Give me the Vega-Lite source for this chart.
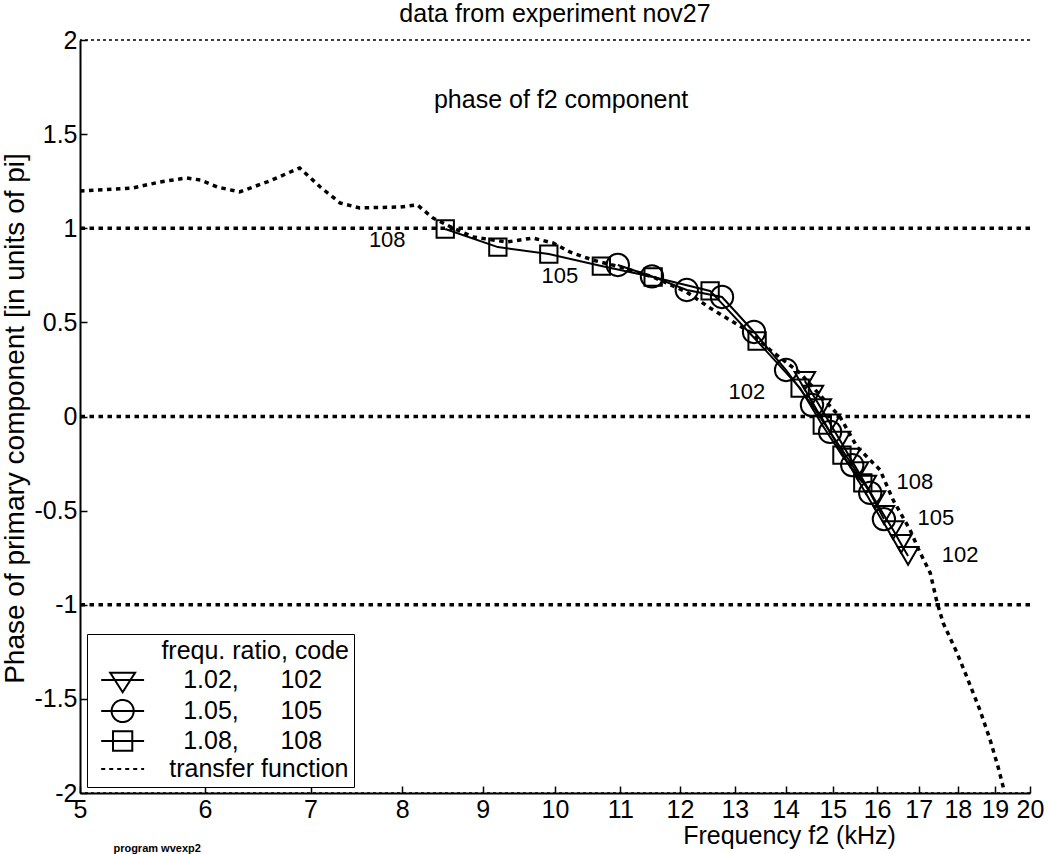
{
  "$schema": "https://vega.github.io/schema/vega-lite/v6.json",
  "width": 950,
  "height": 753,
  "autosize": "none",
  "padding": {"left": 80, "top": 40, "right": 20, "bottom": 61},
  "background": "white",
  "config": {
    "font": "Liberation Sans",
    "view": {"stroke": null},
    "axis": {"domainColor": "black", "tickColor": "black", "labelColor": "black", "titleColor": "black", "grid": false}
  },
  "title": {"text": "data from experiment nov27", "fontSize": 25, "fontWeight": "normal", "anchor": "middle", "offset": 1, "color": "black", "font": "Liberation Sans"},
  "datasets": {
    "frame": [{"phase": 2}, {"phase": -2}],
    "levels": [{"phase": 1}, {"phase": 0}, {"phase": -1}],
    "phase": [
      {"series": "transfer", "f": 5.0, "phase": 1.198},
      {"series": "transfer", "f": 5.40, "phase": 1.214},
      {"series": "transfer", "f": 5.62, "phase": 1.246},
      {"series": "transfer", "f": 5.84, "phase": 1.267},
      {"series": "transfer", "f": 5.96, "phase": 1.256},
      {"series": "transfer", "f": 6.11, "phase": 1.219},
      {"series": "transfer", "f": 6.31, "phase": 1.193},
      {"series": "transfer", "f": 6.57, "phase": 1.246},
      {"series": "transfer", "f": 6.89, "phase": 1.320},
      {"series": "transfer", "f": 7.10, "phase": 1.219},
      {"series": "transfer", "f": 7.31, "phase": 1.134},
      {"series": "transfer", "f": 7.52, "phase": 1.108},
      {"series": "transfer", "f": 7.98, "phase": 1.113},
      {"series": "transfer", "f": 8.18, "phase": 1.124},
      {"series": "transfer", "f": 8.37, "phase": 1.054},
      {"series": "transfer", "f": 8.62, "phase": 1.001},
      {"series": "transfer", "f": 8.87, "phase": 0.954},
      {"series": "transfer", "f": 9.32, "phase": 0.927},
      {"series": "transfer", "f": 9.68, "phase": 0.948},
      {"series": "transfer", "f": 9.97, "phase": 0.922},
      {"series": "transfer", "f": 10.22, "phase": 0.874},
      {"series": "transfer", "f": 10.57, "phase": 0.831},
      {"series": "transfer", "f": 11.00, "phase": 0.794},
      {"series": "transfer", "f": 11.54, "phase": 0.741},
      {"series": "transfer", "f": 12.12, "phase": 0.661},
      {"series": "transfer", "f": 12.54, "phase": 0.576},
      {"series": "transfer", "f": 12.97, "phase": 0.502},
      {"series": "transfer", "f": 13.29, "phase": 0.449},
      {"series": "transfer", "f": 13.69, "phase": 0.353},
      {"series": "transfer", "f": 14.30, "phase": 0.231},
      {"series": "transfer", "f": 14.72, "phase": 0.114},
      {"series": "transfer", "f": 15.16, "phase": -0.003},
      {"series": "transfer", "f": 15.54, "phase": -0.162},
      {"series": "transfer", "f": 16.07, "phase": -0.284},
      {"series": "transfer", "f": 16.38, "phase": -0.444},
      {"series": "transfer", "f": 16.79, "phase": -0.603},
      {"series": "transfer", "f": 17.03, "phase": -0.720},
      {"series": "transfer", "f": 17.29, "phase": -0.831},
      {"series": "transfer", "f": 17.46, "phase": -0.985},
      {"series": "transfer", "f": 17.62, "phase": -1.097},
      {"series": "transfer", "f": 17.98, "phase": -1.256},
      {"series": "transfer", "f": 18.24, "phase": -1.384},
      {"series": "transfer", "f": 18.59, "phase": -1.559},
      {"series": "transfer", "f": 18.87, "phase": -1.718},
      {"series": "transfer", "f": 19.09, "phase": -1.862},
      {"series": "transfer", "f": 19.25, "phase": -1.98},
      {"series": "108", "f": 8.52, "phase": 0.996},
      {"series": "108", "f": 9.20, "phase": 0.900},
      {"series": "108", "f": 9.91, "phase": 0.863},
      {"series": "108", "f": 10.70, "phase": 0.799},
      {"series": "108", "f": 11.54, "phase": 0.741},
      {"series": "108", "f": 12.54, "phase": 0.667},
      {"series": "108", "f": 13.43, "phase": 0.401},
      {"series": "108", "f": 14.30, "phase": 0.151},
      {"series": "108", "f": 14.77, "phase": -0.045},
      {"series": "108", "f": 15.20, "phase": -0.205},
      {"series": "108", "f": 15.67, "phase": -0.353},
      {"series": "105", "f": 10.96, "phase": 0.805},
      {"series": "105", "f": 11.52, "phase": 0.744},
      {"series": "105", "f": 12.12, "phase": 0.672},
      {"series": "105", "f": 12.76, "phase": 0.635},
      {"series": "105", "f": 13.37, "phase": 0.449},
      {"series": "105", "f": 14.01, "phase": 0.247},
      {"series": "105", "f": 14.55, "phase": 0.061},
      {"series": "105", "f": 14.94, "phase": -0.082},
      {"series": "105", "f": 15.43, "phase": -0.258},
      {"series": "105", "f": 15.84, "phase": -0.406},
      {"series": "105", "f": 16.16, "phase": -0.545},
      {"series": "102", "f": 14.40, "phase": 0.189},
      {"series": "102", "f": 14.57, "phase": 0.116},
      {"series": "102", "f": 14.74, "phase": 0.045},
      {"series": "102", "f": 14.94, "phase": -0.037},
      {"series": "102", "f": 15.16, "phase": -0.128},
      {"series": "102", "f": 15.38, "phase": -0.218},
      {"series": "102", "f": 15.56, "phase": -0.290},
      {"series": "102", "f": 15.74, "phase": -0.362},
      {"series": "102", "f": 15.95, "phase": -0.444},
      {"series": "102", "f": 16.16, "phase": -0.523},
      {"series": "102", "f": 16.38, "phase": -0.603},
      {"series": "102", "f": 16.57, "phase": -0.677},
      {"series": "102", "f": 16.74, "phase": -0.741}
    ]
  },
  "layer": [
    {
      "data": {"name": "frame"},
      "mark": {"type": "rule", "color": "black", "strokeWidth": 1.5, "strokeDash": [3, 3]},
      "encoding": {
        "y": {
          "field": "phase", "type": "quantitative",
          "scale": {"domain": [-2, 2], "nice": false, "zero": false},
          "axis": {
            "values": [-2, -1.5, -1, -0.5, 0, 0.5, 1, 1.5, 2],
            "labelExpr": "datum.value + ''",
            "labelFontSize": 25,
            "labelPadding": 10,
            "labelOverlap": false,
            "labelFlush": false,
            "tickSize": -7,
            "tickWidth": 1.5,
            "domainWidth": 2,
            "title": "Phase of primary component [in units of pi]",
            "titleFontSize": 28,
            "titleFontWeight": "normal",
            "titleAngle": -90,
            "titleX": -57,
            "titleY": 378,
            "titleAlign": "center",
            "titleBaseline": "alphabetic"
          }
        }
      }
    },
    {
      "data": {"name": "levels"},
      "mark": {"type": "rule", "color": "black", "strokeWidth": 3.5, "strokeDash": [4.5, 4.5]},
      "encoding": {"y": {"field": "phase", "type": "quantitative"}}
    },
    {
      "data": {"name": "phase"},
      "transform": [{"filter": "datum.series == 'transfer'"}],
      "mark": {"type": "line", "color": "black", "strokeWidth": 3.5, "strokeDash": [4.5, 4.5]},
      "encoding": {
        "x": {
          "field": "f", "type": "quantitative",
          "scale": {"type": "log", "domain": [5, 20], "nice": false, "zero": false},
          "axis": {
            "values": [5, 6, 7, 8, 9, 10, 11, 12, 13, 14, 15, 16, 17, 18, 19, 20],
            "labelExpr": "datum.value + ''",
            "labelFontSize": 25,
            "labelPadding": 11,
            "labelOverlap": false,
            "labelFlush": false,
            "tickSize": -7,
            "tickWidth": 1.5,
            "domainWidth": 2,
            "title": "Frequency f2 (kHz)",
            "titleFontSize": 25,
            "titleFontWeight": "normal",
            "titleX": 709,
            "titleY": 50,
            "titleAlign": "center",
            "titleBaseline": "alphabetic"
          }
        },
        "y": {"field": "phase", "type": "quantitative"}
      }
    },
    {
      "data": {"name": "phase"},
      "transform": [{"filter": "datum.series != 'transfer'"}],
      "mark": {"type": "line", "color": "black", "strokeWidth": 2},
      "encoding": {
        "x": {"field": "f", "type": "quantitative"},
        "y": {"field": "phase", "type": "quantitative"},
        "detail": {"field": "series", "type": "nominal"}
      }
    },
    {
      "data": {"name": "phase"},
      "transform": [{"filter": "datum.series == '102'"}],
      "mark": {"type": "point", "shape": "triangle-down", "size": 420, "filled": false, "color": "black", "strokeWidth": 2, "opacity": 1},
      "encoding": {
        "x": {"field": "f", "type": "quantitative"},
        "y": {"field": "phase", "type": "quantitative"}
      }
    },
    {
      "data": {"name": "phase"},
      "transform": [{"filter": "datum.series == '105'"}],
      "mark": {"type": "point", "shape": "circle", "size": 500, "filled": false, "color": "black", "strokeWidth": 2, "opacity": 1},
      "encoding": {
        "x": {"field": "f", "type": "quantitative"},
        "y": {"field": "phase", "type": "quantitative"}
      }
    },
    {
      "data": {"name": "phase"},
      "transform": [{"filter": "datum.series == '108'"}],
      "mark": {"type": "point", "shape": "square", "size": 300, "filled": false, "color": "black", "strokeWidth": 2, "opacity": 1},
      "encoding": {
        "x": {"field": "f", "type": "quantitative"},
        "y": {"field": "phase", "type": "quantitative"}
      }
    },
    {
      "data": {"name": "phase"},
      "transform": [{"filter": "datum.f < 0"}],
      "mark": {"type": "point", "filled": false, "color": "black"},
      "encoding": {
        "x": {"field": "f", "type": "quantitative"},
        "y": {"field": "phase", "type": "quantitative"},
        "shape": {
          "field": "series", "type": "nominal",
          "scale": {
            "domain": ["102", "105", "108", "transfer"],
            "range": [
              "M-1.67,0H1.67M-0.97,-0.57H0.97L0,0.95Z",
              "M-1.67,0H1.67M0.86,0A0.86,0.86,0,1,1,-0.86,0A0.86,0.86,0,1,1,0.86,0Z",
              "M-1.67,0H1.67M-0.75,-0.75H0.75V0.75H-0.75Z",
              "M-1.67,0H1.67"
            ]
          },
          "legend": {
            "orient": "none", "legendX": 7, "legendY": 594,
            "title": "frequ. ratio, code", "titleFontSize": 25, "titleFontWeight": "normal", "titleAnchor": "end", "titleColor": "black", "titlePadding": 2, "titleLimit": 400,
            "labelFontSize": 25, "labelColor": "black", "labelLimit": 400, "labelOffset": 32.6, "symbolOffset": 16.65,
            "labelExpr": "{'102': '\u200b\u00a0\u00a01.02,\u00a0\u00a0\u00a0\u00a0\u00a0\u00a0102', '105': '\u200b\u00a0\u00a01.05,\u00a0\u00a0\u00a0\u00a0\u00a0\u00a0105', '108': '\u200b\u00a0\u00a01.08,\u00a0\u00a0\u00a0\u00a0\u00a0\u00a0108', 'transfer': 'transfer function\u00a0'}[datum.label]",
            "rowPadding": -3.8, "padding": 5, "strokeColor": "black", "fillColor": "white", "cornerRadius": 0,
            "symbolSize": 660, "symbolFillColor": "transparent", "symbolStrokeColor": "black", "symbolOpacity": 1
          }
        },
        "strokeDash": {
          "field": "series", "type": "nominal",
          "scale": {"domain": ["102", "105", "108", "transfer"], "range": [[1, 0], [1, 0], [1, 0], [4, 4]]},
          "legend": {"title": "frequ. ratio, code"}
        },
        "strokeWidth": {
          "field": "series", "type": "ordinal",
          "scale": {"domain": ["102", "105", "108", "transfer"], "range": [2, 2, 2, 3.5]},
          "legend": {"title": "frequ. ratio, code"}
        }
      }
    },
    {
      "data": {"name": "phase"},
      "transform": [
        {"filter": "datum.series != 'transfer'"},
        {"joinaggregate": [{"op": "min", "field": "f", "as": "fmin"}], "groupby": ["series"]},
        {"filter": "datum.f == datum.fmin"}
      ],
      "mark": {"type": "text", "dx": -58, "dy": 11, "fontSize": 22, "color": "black", "align": "center", "baseline": "middle"},
      "encoding": {
        "x": {"field": "f", "type": "quantitative"},
        "y": {"field": "phase", "type": "quantitative"},
        "text": {"field": "series", "type": "nominal"}
      }
    },
    {
      "data": {"name": "phase"},
      "transform": [
        {"filter": "datum.series != 'transfer'"},
        {"joinaggregate": [{"op": "max", "field": "f", "as": "fmax"}], "groupby": ["series"]},
        {"filter": "datum.f == datum.fmax"}
      ],
      "mark": {"type": "text", "dx": 52, "dy": -1, "fontSize": 22, "color": "black", "align": "center", "baseline": "middle"},
      "encoding": {
        "x": {"field": "f", "type": "quantitative"},
        "y": {"field": "phase", "type": "quantitative"},
        "text": {"field": "series", "type": "nominal"}
      }
    },
    {
      "data": {"values": [{}]},
      "mark": {"type": "text", "fontSize": 25, "color": "black", "align": "center", "baseline": "middle"},
      "encoding": {
        "x": {"datum": 10.09},
        "y": {"datum": 1.68},
        "text": {"value": "phase of f2 component"}
      }
    },
    {
      "data": {"values": [{}]},
      "mark": {"type": "text", "fontSize": 11, "fontWeight": "bold", "color": "black", "align": "left", "baseline": "middle"},
      "encoding": {
        "x": {"datum": 5.25},
        "y": {"datum": -2.3},
        "text": {"value": "program wvexp2"}
      }
    }
  ]
}
